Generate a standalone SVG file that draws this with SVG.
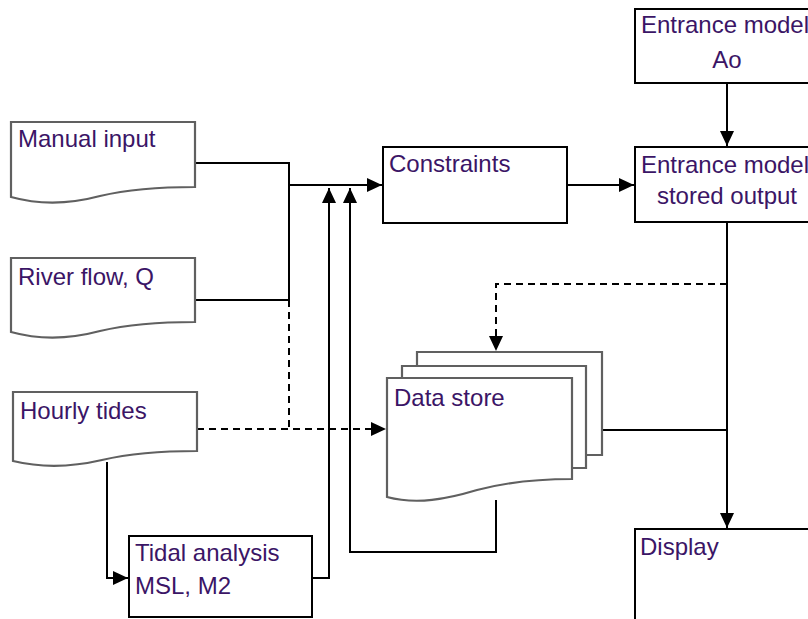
<svg xmlns="http://www.w3.org/2000/svg" width="808" height="619" viewBox="0 0 808 619">
<style>
.doc{fill:#fff;stroke:#606060;stroke-width:2.2}
.box{fill:#fff;stroke:#000;stroke-width:2}
.t{font-family:"Liberation Sans",Arial,sans-serif;font-size:24px;fill:#3b1566}
.c{fill:none;stroke:#000;stroke-width:2}
.d{fill:none;stroke:#000;stroke-width:2;stroke-dasharray:7,5}
</style>
<defs>
<marker id="a" markerUnits="userSpaceOnUse" markerWidth="16" markerHeight="14" refX="15" refY="7" orient="auto">
<path d="M0,0 L15,7 L0,14 Z" fill="#000"/>
</marker>
</defs>
<rect width="808" height="619" fill="#fff"/>
<g id="connectors">
<path class="c" d="M195,163 H289 V300 H195"/>
<path class="c" d="M289,185 H382" marker-end="url(#a)"/>
<path class="d" d="M289,300 V429"/>
<path class="d" d="M197,429 H386" marker-end="url(#a)"/>
<path class="c" d="M107,462 V578 H128" marker-end="url(#a)"/>
<path class="c" d="M312,578 H329 V188" marker-end="url(#a)"/>
<path class="c" d="M496,500 V552 H350 V188" marker-end="url(#a)"/>
<path class="c" d="M567,185 H634" marker-end="url(#a)"/>
<path class="c" d="M727,83 V146" marker-end="url(#a)"/>
<path class="c" d="M727,222 V528" marker-end="url(#a)"/>
<path class="d" d="M727,284 H496 V351" marker-end="url(#a)"/>
<path class="c" d="M602,430 H727"/>
</g>
<g id="manual">
<path class="doc" d="M11,122 H195 V187 C160,187 130,189 100,196 C70,204 40,205 11,197 Z"/>
<text class="t" x="18" y="147">Manual input</text>
</g>
<g id="river">
<path class="doc" d="M11,258 H195 V322 C160,322 130,324 100,331 C70,339 40,340 11,332 Z"/>
<text class="t" x="18" y="285">River flow, Q</text>
</g>
<g id="hourly">
<path class="doc" d="M13,392 H197 V451 C162,451 132,453 102,460 C72,467 42,468 13,461 Z"/>
<text class="t" x="20" y="419">Hourly tides</text>
</g>
<g id="tidal">
<rect class="box" x="129" y="536" width="183" height="81"/>
<text class="t" x="135" y="561">Tidal analysis</text>
<text class="t" x="135" y="594">MSL, M2</text>
</g>
<g id="constraints">
<rect class="box" x="383" y="147" width="184" height="76"/>
<text class="t" x="389" y="172">Constraints</text>
</g>
<g id="entrance-ao">
<rect class="box" x="635" y="9" width="184" height="74"/>
<text class="t" x="725" y="33" text-anchor="middle">Entrance model</text>
<text class="t" x="727" y="68" text-anchor="middle">Ao</text>
</g>
<g id="entrance-stored">
<rect class="box" x="635" y="147" width="184" height="75"/>
<text class="t" x="725" y="173" text-anchor="middle">Entrance model</text>
<text class="t" x="727" y="204" text-anchor="middle">stored output</text>
</g>
<g id="datastore">
<path class="doc" d="M417,366 V352 H602 V455 H586"/>
<path class="doc" d="M402,378 V366 H586 V468 H572"/>
<path class="doc" d="M387,378 H572 V479 C537,479 507,482 477,490 C447,499 417,505 387,497 Z"/>
<text class="t" x="394" y="406">Data store</text>
</g>
<g id="display">
<rect class="box" x="635" y="529" width="184" height="100"/>
<text class="t" x="640" y="555">Display</text>
</g>
</svg>
